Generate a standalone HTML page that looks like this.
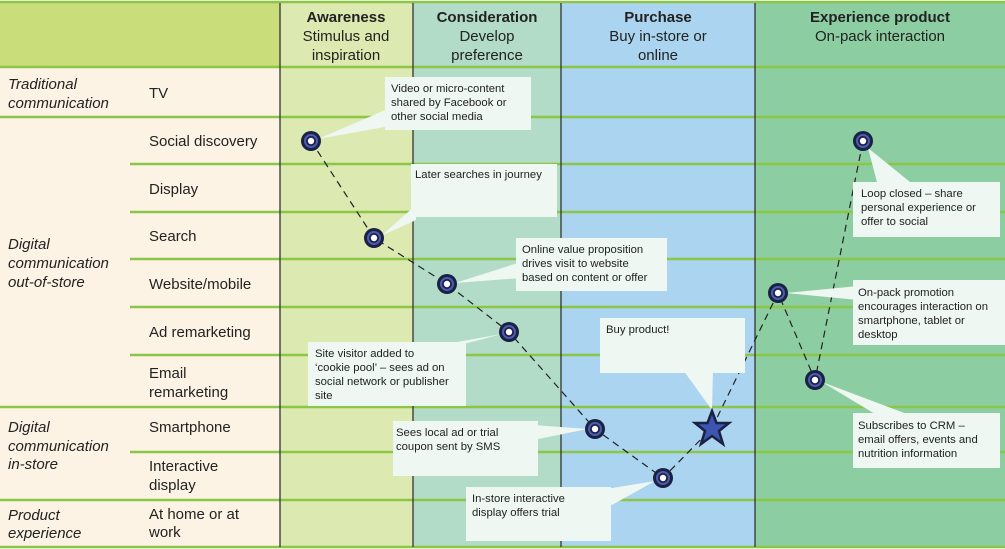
<!DOCTYPE html>
<html><head><meta charset="utf-8"><style>
body{margin:0;background:#fff}
svg{display:block;font-family:"Liberation Sans",sans-serif}
.l{font-size:15px;fill:#222}
.c{font-size:11.3px;fill:#222}
.h{font-size:15px;fill:#222;text-anchor:middle}
</style></head><body>
<svg width="1005" height="549" viewBox="0 0 1005 549">
<defs>
<g id="n"><circle r="10" fill="#1b2142"/><circle r="7" fill="#4b5cb3"/><circle r="5" fill="#1b2142"/><circle r="3.2" fill="#fff"/></g>
</defs>
<rect width="1005" height="549" fill="#fff"/>
<rect x="0" y="2" width="280" height="65" fill="#c9dd7a"/>
<rect x="0" y="67" width="280" height="480" fill="#fdf3e5"/>
<rect x="280" y="2" width="133" height="545" fill="#dce9b0"/>
<rect x="413" y="2" width="148" height="545" fill="#b3dcc8"/>
<rect x="561" y="2" width="194" height="545" fill="#aad4ef"/>
<rect x="755" y="2" width="250" height="545" fill="#8ccea2"/>
<g stroke="#8cc646" stroke-width="2.5">
<line x1="0" y1="2" x2="1005" y2="2"/>
<line x1="0" y1="67" x2="1005" y2="67"/>
<line x1="0" y1="117" x2="1005" y2="117"/>
<line x1="130" y1="164" x2="1005" y2="164"/>
<line x1="130" y1="212" x2="1005" y2="212"/>
<line x1="130" y1="259" x2="1005" y2="259"/>
<line x1="130" y1="307" x2="1005" y2="307"/>
<line x1="130" y1="355" x2="1005" y2="355"/>
<line x1="0" y1="407" x2="1005" y2="407"/>
<line x1="130" y1="452" x2="1005" y2="452"/>
<line x1="0" y1="500" x2="1005" y2="500"/>
<line x1="0" y1="547" x2="1005" y2="547"/>
</g>
<g stroke="#333" stroke-width="1.3">
<line x1="280" y1="3" x2="280" y2="547"/><line x1="413" y1="3" x2="413" y2="547"/>
<line x1="561" y1="3" x2="561" y2="547"/><line x1="755" y1="3" x2="755" y2="547"/>
</g>
<text class="h" x="346" y="22" font-weight="bold">Awareness</text>
<text class="h" x="346" y="41">Stimulus and</text><text class="h" x="346" y="60">inspiration</text>
<text class="h" x="487" y="22" font-weight="bold">Consideration</text>
<text class="h" x="487" y="41">Develop</text><text class="h" x="487" y="60">preference</text>
<text class="h" x="658" y="22" font-weight="bold">Purchase</text>
<text class="h" x="658" y="41">Buy in-store or</text><text class="h" x="658" y="60">online</text>
<text class="h" x="880" y="22" font-weight="bold">Experience product</text>
<text class="h" x="880" y="41">On-pack interaction</text>
<g class="l" font-style="italic">
<text x="8" y="89">Traditional</text><text x="8" y="108">communication</text>
<text x="8" y="249">Digital</text><text x="8" y="268">communication</text><text x="8" y="287">out-of-store</text>
<text x="8" y="432">Digital</text><text x="8" y="451">communication</text><text x="8" y="469">in-store</text>
<text x="8" y="520">Product</text><text x="8" y="538">experience</text>
</g>
<g class="l">
<text x="149" y="98">TV</text>
<text x="149" y="146">Social discovery</text>
<text x="149" y="194">Display</text>
<text x="149" y="241">Search</text>
<text x="149" y="289">Website/mobile</text>
<text x="149" y="337">Ad remarketing</text>
<text x="149" y="378">Email</text><text x="149" y="397">remarketing</text>
<text x="149" y="432">Smartphone</text>
<text x="149" y="471">Interactive</text><text x="149" y="490">display</text>
<text x="149" y="519">At home or at</text><text x="149" y="537">work</text>
</g>
<polyline points="311,141 374,238 447,284 509,332 595,429 663,478 712,428 778,293 815,380 863,141" fill="none" stroke="#222" stroke-width="1.2" stroke-dasharray="7,5"/>
<g fill="#eef7f2">
<rect x="385" y="77" width="146" height="53"/><polygon points="318,139 390,108 390,126"/>
<rect x="411" y="164" width="146" height="53"/><polygon points="381,236 416,205 416,220"/>
<rect x="516" y="238" width="151" height="53"/><polygon points="455,283 521,262 521,278"/>
<rect x="308" y="342" width="158" height="64"/><polygon points="502,334 460,345 440,345"/>
<rect x="600" y="318" width="145" height="55"/><polygon points="712,410 683,370 713,370"/>
<rect x="393" y="421" width="145" height="55"/><polygon points="588,429 533,425 533,440"/>
<rect x="466" y="487" width="145" height="54"/><polygon points="655,481 600,490 612,505"/>
<rect x="853" y="182" width="147" height="55"/><polygon points="868,148 878,186 915,186"/>
<rect x="853" y="280" width="152" height="65"/><polygon points="786,293 858,286 858,300"/>
<rect x="853" y="413" width="147" height="55"/><polygon points="822,382 880,417 915,417"/>
</g>
<g class="c">
<text x="391" y="92">Video or micro-content</text><text x="391" y="106">shared by Facebook or</text><text x="391" y="120">other social media</text>
<text x="415" y="178">Later searches in journey</text>
<text x="522" y="253">Online value proposition</text><text x="522" y="267">drives visit to website</text><text x="522" y="281">based on content or offer</text>
<text x="315" y="357">Site visitor added to</text><text x="315" y="371">‘cookie pool’ – sees ad on</text><text x="315" y="385">social network or publisher</text><text x="315" y="399">site</text>
<text x="606" y="333">Buy product!</text>
<text x="396" y="436">Sees local ad or trial</text><text x="396" y="450">coupon sent by SMS</text>
<text x="472" y="502">In-store interactive</text><text x="472" y="516">display offers trial</text>
<text x="861" y="197">Loop closed – share</text><text x="861" y="211">personal experience or</text><text x="861" y="225">offer to social</text>
<text x="858" y="296">On-pack promotion</text><text x="858" y="310">encourages interaction on</text><text x="858" y="324">smartphone, tablet or</text><text x="858" y="338">desktop</text>
<text x="858" y="429">Subscribes to CRM –</text><text x="858" y="443">email offers, events and</text><text x="858" y="457">nutrition information</text>
</g>
<use href="#n" x="311" y="141"/><use href="#n" x="374" y="238"/><use href="#n" x="447" y="284"/>
<use href="#n" x="509" y="332"/><use href="#n" x="595" y="429"/><use href="#n" x="663" y="478"/>
<use href="#n" x="778" y="293"/><use href="#n" x="815" y="380"/><use href="#n" x="863" y="141"/>
<polygon points="712,411 716.5,423 729,423 719,431 723,444 712,436 701,444 705,431 695,423 707.5,423" fill="#3b55b0" stroke="#1b2142" stroke-width="2.5" stroke-linejoin="miter"/>
</svg>
</body></html>
